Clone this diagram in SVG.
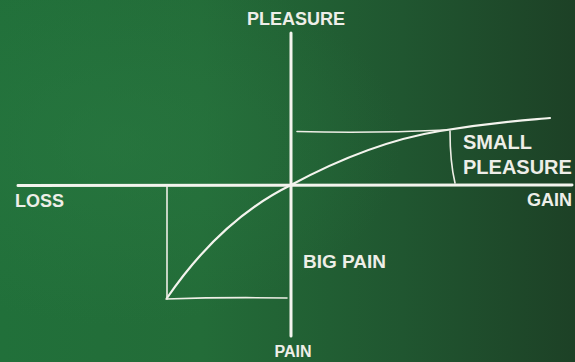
<svg xmlns="http://www.w3.org/2000/svg" width="575" height="362" viewBox="0 0 575 362">
<defs>
<linearGradient id="bg" x1="0" y1="0" x2="1" y2="0">
<stop offset="0" stop-color="#21703a"/>
<stop offset="0.35" stop-color="#236c38"/>
<stop offset="0.7" stop-color="#205630"/>
<stop offset="1" stop-color="#1d4126"/>
</linearGradient>
<radialGradient id="glow" cx="0.2" cy="0.4" r="0.5">
<stop offset="0" stop-color="#2a7a42" stop-opacity="0.5"/>
<stop offset="1" stop-color="#2a7a42" stop-opacity="0"/>
</radialGradient>
<style>
.ax{stroke:#f4f4ee;stroke-width:3;fill:none;stroke-linecap:round}
.ln{stroke:#eeeee6;stroke-width:1.6;fill:none;stroke-linecap:round}
.cv{stroke:#f4f4ee;stroke-width:2.2;fill:none;stroke-linecap:round}
text{font-family:"Liberation Sans",Arial,sans-serif;font-weight:bold;fill:#eeeee8}
</style>
</defs>
<rect width="575" height="362" fill="url(#bg)"/>
<rect width="575" height="362" fill="url(#glow)"/>
<g id="connectors">
<path class="ax" d="M18,185.5 L572,185"/>
<path class="ax" d="M291,33 L291,336"/>
<path class="cv" d="M167,298 C200,250 240,210 291,185 C330,164 385,140 440,131 S515,121 550,118"/>
<path class="ln" d="M297,131.5 Q370,133.5 446,130"/>
<path class="ln" d="M450,131 Q450,162 455,183"/>
<path class="ln" d="M167,186 L167,299"/>
<path class="ln" d="M166,299 Q225,297 287,298"/>
</g>
<g id="pleasure-top"><text x="296" y="25" font-size="18" text-anchor="middle">PLEASURE</text></g>
<g id="loss"><text x="15" y="207" font-size="18">LOSS</text></g>
<g id="gain"><text x="572" y="206" font-size="18" text-anchor="end">GAIN</text></g>
<g id="small-pleasure"><text x="463" y="149" font-size="20">SMALL</text><text x="463" y="174" font-size="20">PLEASURE</text></g>
<g id="big-pain"><text x="303" y="268" font-size="19">BIG PAIN</text></g>
<g id="pain"><text x="293" y="357" font-size="16" text-anchor="middle">PAIN</text></g>
</svg>
